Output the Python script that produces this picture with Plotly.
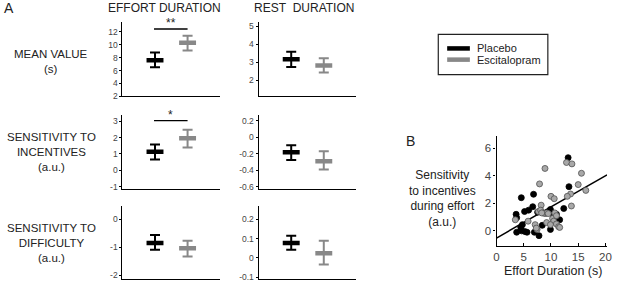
import plotly.graph_objects as go

W, H = 617, 286

# ---------------- data ----------------
groups = ["Placebo", "Escitalopram"]
group_x = [1, 2]
row_labels = ["MEAN VALUE<br>(s)",
              "SENSITIVITY TO<br>INCENTIVES<br>(a.u.)",
              "SENSITIVITY TO<br>DIFFICULTY<br>(a.u.)"]
col_titles = ["EFFORT DURATION", "REST\u00a0\u00a0DURATION"]

effort_placebo_mean = [7.6, 1.14, -0.85]
effort_placebo_lo = [6.5, 0.66, -1.09]
effort_placebo_hi = [8.8, 1.58, -0.565]
effort_esc_mean = [10.3, 1.96, -1.04]
effort_esc_lo = [9.1, 1.40, -1.33]
effort_esc_hi = [11.4, 2.48, -0.77]

rest_placebo_mean = [3.17, -0.18, 0.078]
rest_placebo_lo = [2.73, -0.276, 0.042]
rest_placebo_hi = [3.58, -0.096, 0.115]
rest_esc_mean = [2.82, -0.29, 0.025]
rest_esc_lo = [2.42, -0.39, -0.034]
rest_esc_hi = [3.22, -0.17, 0.089]

effort_ticks = [[2, 4, 6, 8, 10, 12], [-1, 0, 1, 2, 3], [-2, -1, 0]]
effort_ticktext = [["2", "4", "6", "8", "10", "12"], ["-1", "0", "1", "2", "3"], ["-2", "-1", "0"]]
rest_ticks = [[2, 3, 4, 5], [-0.6, -0.4, -0.2, 0, 0.2], [-0.1, 0, 0.1, 0.2]]
rest_ticktext = [["2", "3", "4", "5"], ["-0.6", "-0.4", "-0.2", "0", "0.2"], ["-0.1", "0", "0.1", "0.2"]]

# significance (effort column): row, level, label
sig_rows = [0, 1]
sig_levels = [12.45, 3.04]
sig_labels = ["**", "*"]
sig_span = [0.97, 2.0]

# panel B scatter
placebo_x = [13.15, 13.3, 4.55, 6.8, 3.6, 3.7, 5.15, 5.9, 6.65, 7.55, 9.9, 10.4, 11.6, 12.35,
             4.75, 4.45, 3.7, 4.6, 5.2, 5.6, 6.95, 7.8, 8.4, 9.9, 11.0, 10.9]
placebo_y = [5.3, 3.2, 2.4, 2.65, 1.2, 0.95, 1.4, 1.5, 1.75, 1.35, 1.55, 1.1, 0.8, 1.62,
             0.45, 0.25, -0.1, 0.0, -0.05, -0.1, -0.1, -0.35, 0.4, 0.1, 1.2, 0.9]
esc_x = [12.85, 13.85, 8.9, 15.6, 7.9, 15.0, 16.4, 13.6, 13.0, 10.0, 10.6, 8.2, 13.75, 3.45,
         5.8, 7.1, 7.45, 7.7, 8.1, 8.5, 8.9, 9.2, 9.5, 9.2, 10.3, 10.5, 11.0, 11.4, 10.7, 11.0,
         11.6, 9.9, 8.3, 7.3]
esc_y = [4.95, 4.85, 4.52, 4.17, 3.4, 3.35, 2.93, 2.67, 2.5, 2.5, 2.33, 1.86, 1.8, 0.8,
         0.7, 0.45, 0.1, 1.4, 1.5, 1.3, 1.25, 1.3, 1.25, 0.6, 0.9, 0.7, 0.5, 0.3, 1.3, 1.1,
         0.25, 0.45, 1.3, 0.2]
fit_x = [0, 20.3]
fit_y = [-0.52, 4.05]
scatter_xticks = [0, 5, 10, 15, 20]
scatter_yticks = [0, 2, 4, 6]
scatter_ylabel = "Sensitivity<br>to incentives<br>during effort<br>(a.u.)"
scatter_xlabel = "Effort Duration (s)"

# ---------------- styling ----------------
FONT = "Liberation Sans, Arial, sans-serif"
TXT = "#222222"
TICK = "#444444"
COL_P = "#000000"
COL_E = "#888888"
HALF = 0.26

def px_x(a, b):
    return [a / W, b / W]

def px_y(top, bottom):
    return [1 - bottom / H, 1 - top / H]

col_px = [(121, 220), (259, 358)]
row_px = [(22, 98), (116.7, 192.7), (209.3, 284)]
effort_ranges = [[2, 13.6], [-1.16, 3.4], [-2.14, 0.49]]
rest_ranges = [[1.1, 5.26], [-0.632, 0.276], [-0.109, 0.271]]

fig = go.Figure()
layout = dict()
annotations = []
shapes = []

def add_cross(ax, xv, m, lo, hi, color):
    xa, ya = "x" + ("" if ax == 1 else str(ax)), "y" + ("" if ax == 1 else str(ax))
    fig.add_trace(go.Scatter(
        x=[xv], y=[m], mode="markers", marker=dict(size=0.1, color=color),
        error_y=dict(type="data", symmetric=False, array=[hi - m], arrayminus=[m - lo],
                     color=color, thickness=2, width=5),
        xaxis=xa, yaxis=ya, showlegend=False, hoverinfo="skip"))
    fig.add_trace(go.Scatter(
        x=[xv - HALF, xv + HALF], y=[m, m], mode="lines",
        line=dict(color=color, width=4.5), xaxis=xa, yaxis=ya, showlegend=False,
        hoverinfo="skip"))

ax = 0
for c in range(2):
    for r in range(3):
        ax += 1
        suffix = "" if ax == 1 else str(ax)
        if c == 0:
            pm, plo, phi = effort_placebo_mean[r], effort_placebo_lo[r], effort_placebo_hi[r]
            em, elo, ehi = effort_esc_mean[r], effort_esc_lo[r], effort_esc_hi[r]
            rng, tv, tt = effort_ranges[r], effort_ticks[r], effort_ticktext[r]
        else:
            pm, plo, phi = rest_placebo_mean[r], rest_placebo_lo[r], rest_placebo_hi[r]
            em, elo, ehi = rest_esc_mean[r], rest_esc_lo[r], rest_esc_hi[r]
            rng, tv, tt = rest_ranges[r], rest_ticks[r], rest_ticktext[r]
        add_cross(ax, group_x[0], pm, plo, phi, COL_P)
        add_cross(ax, group_x[1], em, elo, ehi, COL_E)
        layout["xaxis" + suffix] = dict(
            domain=px_x(*col_px[c]), range=[0, 3], anchor="y" + suffix,
            showline=True, linecolor="black", linewidth=1.2, showgrid=False,
            zeroline=False, showticklabels=False, ticks="", fixedrange=True)
        layout["yaxis" + suffix] = dict(
            domain=px_y(*row_px[r]), range=rng, anchor="x" + suffix,
            showline=True, linecolor="black", linewidth=1.2, showgrid=False,
            zeroline=False, tickvals=tv, ticktext=tt, ticks="outside", ticklen=2,
            tickcolor="black", tickfont=dict(size=8.5, color=TICK, family=FONT),
            fixedrange=True)
        if c == 0 and r in sig_rows:
            k = sig_rows.index(r)
            fig.add_trace(go.Scatter(
                x=sig_span, y=[sig_levels[k]] * 2, mode="lines",
                line=dict(color="black", width=1.3), xaxis="x" + suffix,
                yaxis="y" + suffix, showlegend=False, hoverinfo="skip"))
            annotations.append(dict(
                x=sum(sig_span) / 2, y=sig_levels[k], xref="x" + suffix, yref="y" + suffix,
                text=sig_labels[k], showarrow=False, yanchor="bottom", yshift=-3,
                font=dict(size=12, color=TXT, family=FONT)))

# panel B
ax += 1
sb = str(ax)
fig.add_trace(go.Scatter(x=fit_x, y=fit_y, mode="lines", line=dict(color="black", width=1.5),
                         xaxis="x" + sb, yaxis="y" + sb, showlegend=False, hoverinfo="skip"))
fig.add_trace(go.Scatter(x=placebo_x, y=placebo_y, mode="markers", name="Placebo",
                         marker=dict(size=6, color="black", line=dict(color="black", width=0.8)),
                         xaxis="x" + sb, yaxis="y" + sb, showlegend=False))
fig.add_trace(go.Scatter(x=esc_x, y=esc_y, mode="markers", name="Escitalopram",
                         marker=dict(size=6, color="#a8a8a8", line=dict(color="#505050", width=0.8)),
                         xaxis="x" + sb, yaxis="y" + sb, showlegend=False))
layout["xaxis" + sb] = dict(
    domain=px_x(500, 612), range=[0, 20.3], anchor="y" + sb, showline=True,
    linecolor="black", linewidth=1.2, showgrid=False, zeroline=False,
    tickvals=scatter_xticks, ticks="inside", ticklen=3, tickcolor="black",
    tickfont=dict(size=11.5, color=TICK, family=FONT), fixedrange=True)
layout["yaxis" + sb] = dict(
    domain=px_y(138, 250), range=[-1.07, 6.9], anchor="x" + sb, showline=True,
    linecolor="black", linewidth=1.2, showgrid=False, zeroline=False,
    tickvals=scatter_yticks, ticks="outside", ticklen=2, tickcolor="black",
    tickfont=dict(size=11.5, color=TICK, family=FONT), fixedrange=True)

def ann_px(x, y, text, size, xanchor="center", color=TXT):
    annotations.append(dict(x=x / W, y=1 - y / H, xref="paper", yref="paper", text=text,
                            showarrow=False, xanchor=xanchor, yanchor="middle",
                            font=dict(size=size, color=color, family=FONT)))

# panel letters & titles
ann_px(6, 8, "A", 14)
ann_px(413, 143, "B", 14)
ann_px(164, 8, col_titles[0], 12)
ann_px(305, 8, col_titles[1], 12)

row_center_y = [63, 155, 247]
for t, yy in zip(row_labels, row_center_y):
    ann_px(49, yy, t, 11.5)

ann_px(445, 202, scatter_ylabel, 12)
ann_px(557, 276, scatter_xlabel, 12.5)

# legend (manual)
shapes.append(dict(type="rect", xref="paper", yref="paper", x0=441 / W, x1=552 / W,
                   y0=1 - 76 / H, y1=1 - 35 / H, line=dict(color="#222", width=1.2)))
for col, yy, name in [(COL_P, 49.3, groups[0]), (COL_E, 60.7, groups[1])]:
    shapes.append(dict(type="rect", xref="paper", yref="paper", x0=450 / W, x1=473 / W,
                       y0=1 - (yy + 2.3) / H, y1=1 - (yy - 2.3) / H,
                       line=dict(width=0), fillcolor=col))
    ann_px(478, yy, name, 11, xanchor="left")

layout.update(width=W, height=H, margin=dict(l=0, r=0, t=0, b=0),
              paper_bgcolor="white", plot_bgcolor="white", showlegend=False,
              annotations=annotations, shapes=shapes, font=dict(family=FONT))
fig.update_layout(**layout)
fig.write_html("out.html", config={"displayModeBar": False},
               post_script="document.body.style.margin='0';document.body.style.padding='0';"
                           "document.body.style.overflow='hidden';")
